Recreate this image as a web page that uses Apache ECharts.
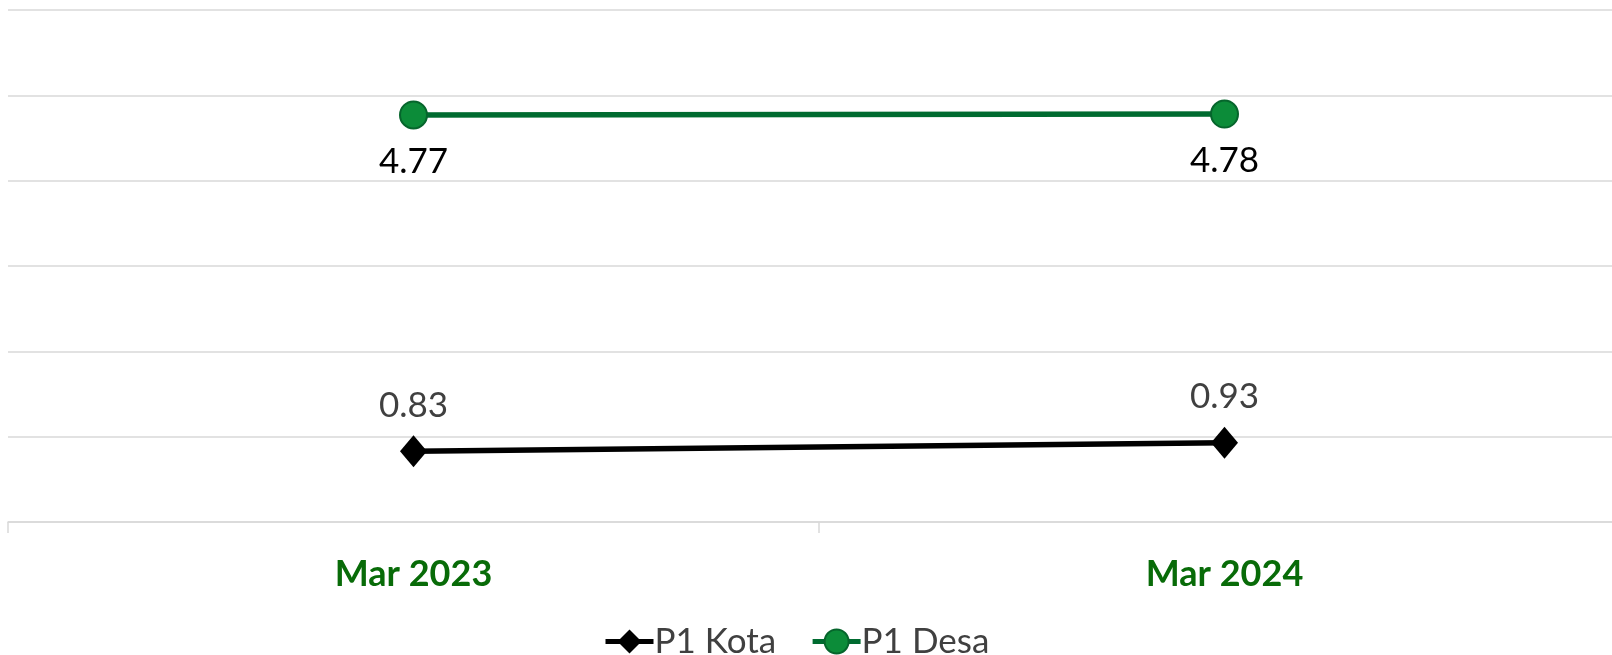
<!DOCTYPE html>
<html>
<head>
<meta charset="utf-8">
<script src="https://cdn.jsdelivr.net/npm/echarts@6/dist/echarts.min.js"></script>
<style>
  html, body { margin: 0; padding: 0; background: #fff; }
  #mChart { width: 1612px; height: 655px; }
</style>
</head>
<body>
<div id="mChart"></div>
<script>
  // data
  var categories = ['Mar 2023', 'Mar 2024'];
  var kotaValues = [0.83, 0.93];
  var desaValues = [4.77, 4.78];
  var seriesNames = ['P1 Kota', 'P1 Desa'];

  var myChart = echarts.init(document.getElementById('mChart'));
  myChart.setOption({
    animation: false,
    textStyle: { fontFamily: 'Lato' },
    grid: { left: 8, top: 10, width: 1622, height: 512, containLabel: false, outerBoundsMode: 'none' },
    legend: {
      data: seriesNames,
      top: 624,
      left: 603,
      padding: 0,
      itemWidth: 48,
      itemHeight: 30,
      itemGap: 34,
      lineStyle: { width: 5 },
      textStyle: { fontSize: 35, color: '#404040', fontFamily: 'Lato', padding: [0, 0, 0, -4] }
    },
    xAxis: {
      type: 'category',
      data: categories,
      boundaryGap: true,
      axisLine: { lineStyle: { color: '#d9d9d9', width: 1.5 } },
      axisTick: { show: true, length: 11, lineStyle: { color: '#d9d9d9', width: 1.5 } },
      axisLabel: { margin: 34, fontSize: 36, fontWeight: 'bold', color: '#086b08', fontFamily: 'Lato' }
    },
    yAxis: {
      type: 'value',
      min: 0,
      max: 6,
      interval: 1,
      axisLabel: { show: false },
      axisLine: { show: false },
      axisTick: { show: false },
      splitLine: { lineStyle: { color: '#d9d9d9', width: 1.5 } }
    },
    series: [
      {
        name: seriesNames[0],
        type: 'line',
        data: kotaValues,
        symbol: 'diamond',
        symbolSize: [27, 32],
        lineStyle: { color: '#000', width: 5.5 },
        itemStyle: { color: '#000' },
        label: {
          show: true, position: 'top', distance: 12,
          fontSize: 35, color: '#404040', fontFamily: 'Lato'
        }
      },
      {
        name: seriesNames[1],
        type: 'line',
        data: desaValues,
        symbol: 'circle',
        symbolSize: 27,
        lineStyle: { color: '#006b30', width: 5.5 },
        itemStyle: { color: '#0c8c39', borderColor: '#06652c', borderWidth: 2 },
        label: {
          show: true, position: 'bottom', distance: 15,
          fontSize: 35, color: '#000', fontFamily: 'Lato'
        }
      }
    ]
  });
</script>
</body>
</html>
